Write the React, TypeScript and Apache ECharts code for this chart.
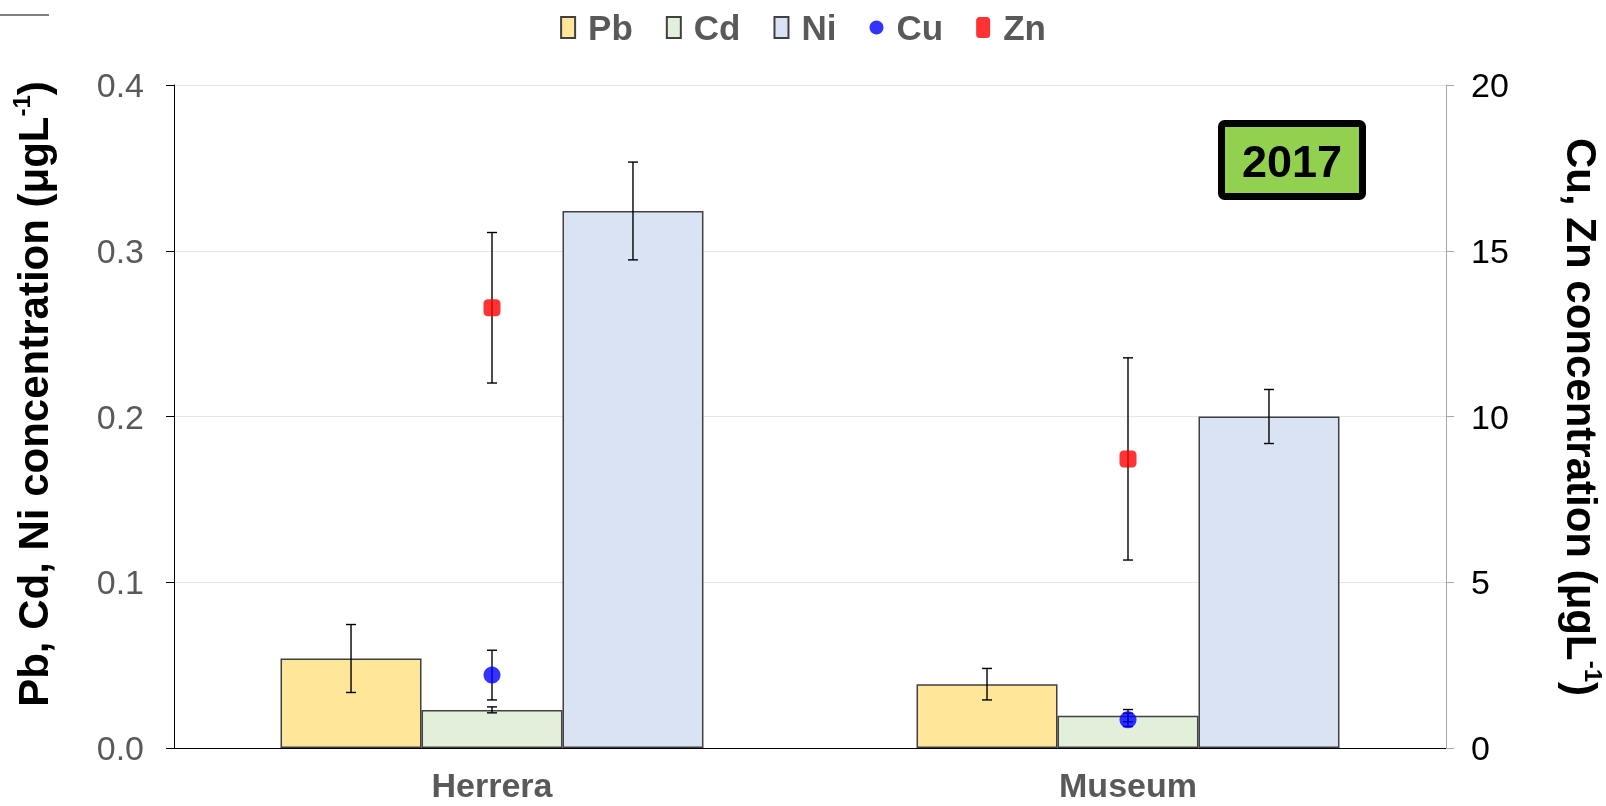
import React, { useEffect, useRef } from "react";
import * as echarts from "echarts";

const categories = ["Herrera", "Museum"];
const pb = [0.054, 0.0385];
const pbErr = [0.0205, 0.0095];
const cd = [0.023, 0.0195];
const cdErr = [0.0018, 0.0037];
const ni = [0.324, 0.2];
const niErr = [0.0295, 0.0163];
const cu = [2.2, 0.85];
const cuErr = [0.75, 0.2];
const zn = [13.28, 8.72];
const znErr = [2.27, 3.05];
const leftTicks = [0, 0.1, 0.2, 0.3, 0.4];
const rightTicks = [0, 5, 10, 15, 20];
const legendNames = ["Pb", "Cd", "Ni", "Cu", "Zn"];
const legendIcons = ["rect", "rect", "rect", "circle", "roundRect"];

const FONT = "'Liberation Sans', Arial, sans-serif";
const GAP = 0.335;

export default function App() {
  const ref = useRef<HTMLDivElement>(null);
  useEffect(() => {
    if (!ref.current) return;
    const chart = echarts.init(ref.current, null, { renderer: "svg" });

    const leftErrData: number[][] = [];
    [pb, cd, ni].forEach((arr, k) => {
      const errs = [pbErr, cdErr, niErr][k];
      arr.forEach((v, i) => leftErrData.push([i, v, errs[i], k - 1]));
    });
    const rightErrData: number[][] = [];
    [cu, zn].forEach((arr, k) => {
      const errs = [cuErr, znErr][k];
      arr.forEach((v, i) => rightErrData.push([i, v, errs[i], 0]));
    });

    const renderErr = (params: any, api: any) => {
      const cat = api.value(0);
      const v = api.value(1);
      const e = api.value(2);
      const k = api.value(3);
      const band = api.size([1, 0])[0];
      const bw = (band * (1 - GAP)) / 3;
      const c = api.coord([cat, v]);
      const x = c[0] + k * bw;
      const top = api.coord([cat, v + e])[1];
      const bot = api.coord([cat, v - e])[1];
      const st = { stroke: "#000", lineWidth: 1.4 };
      const hw = 5;
      return {
        type: "group",
        children: [
          { type: "line", shape: { x1: x, y1: top, x2: x, y2: bot }, style: st },
          { type: "line", shape: { x1: x - hw, y1: top, x2: x + hw, y2: top }, style: st },
          { type: "line", shape: { x1: x - hw, y1: bot, x2: x + hw, y2: bot }, style: st },
        ],
      };
    };

    const barStyle = (color: string) => ({ color, borderColor: "#404040", borderWidth: 1.5 });

    const option: any = {
      animation: false,
      textStyle: { fontFamily: FONT },
      legend: {
        top: 5,
        left: "center",
        data: legendNames.map((n, i) => ({ name: n, icon: legendIcons[i] })),
        itemWidth: 14,
        itemHeight: 21,
        itemGap: 33,
        textStyle: { fontSize: 35, fontWeight: "bold", color: "#595959", fontFamily: FONT, padding: [0, 0, 0, 8] },
      },
      grid: { left: 174, right: 160, top: 85, bottom: 58 },
      xAxis: {
        type: "category",
        data: categories,
        axisLine: { lineStyle: { color: "#000", width: 1 } },
        axisTick: { show: false },
        axisLabel: { fontSize: 34, lineHeight: 34, fontWeight: "bold", color: "#595959", margin: 20, fontFamily: FONT },
      },
      yAxis: [
        {
          type: "value",
          min: leftTicks[0],
          max: leftTicks[leftTicks.length - 1],
          interval: 0.1,
          axisLine: { show: true, lineStyle: { color: "#000", width: 1 } },
          axisTick: { show: true, length: 8, lineStyle: { color: "#000" } },
          axisLabel: { fontSize: 34, color: "#595959", margin: 30, formatter: (v: number) => v.toFixed(1), fontFamily: FONT },
          splitLine: { show: true, lineStyle: { color: "#e6e6e6", width: 1 } },
        },
        {
          type: "value",
          min: rightTicks[0],
          max: rightTicks[rightTicks.length - 1],
          interval: 5,
          position: "right",
          axisLine: { show: true, lineStyle: { color: "#a6a6a6", width: 1 } },
          axisTick: { show: true, length: 8, lineStyle: { color: "#a6a6a6" } },
          axisLabel: { fontSize: 34, color: "#000", margin: 25, fontFamily: FONT },
          splitLine: { show: false },
        },
      ],
      series: [
        { name: "Pb", type: "bar", data: pb, itemStyle: barStyle("#FFE699"), barGap: "0%", barCategoryGap: "33.5%", z: 2 },
        { name: "Cd", type: "bar", data: cd, itemStyle: barStyle("#E2EFDA"), barGap: "0%", barCategoryGap: "33.5%", z: 2 },
        { name: "Ni", type: "bar", data: ni, itemStyle: barStyle("#DAE3F3"), barGap: "0%", barCategoryGap: "33.5%", z: 2 },
        {
          type: "custom",
          renderItem: renderErr,
          data: leftErrData,
          dimensions: ["x", "y", "e", "k"],
          encode: { x: 0, y: 1 },
          yAxisIndex: 0,
          z: 5,
          silent: true,
        },
        {
          type: "custom",
          renderItem: renderErr,
          data: rightErrData,
          dimensions: ["x", "y", "e", "k"],
          encode: { x: 0, y: 1 },
          yAxisIndex: 1,
          z: 5,
          silent: true,
        },
        { name: "Cu", type: "scatter", data: cu, yAxisIndex: 1, symbol: "circle", symbolSize: 17, itemStyle: { color: "#0000FF" }, z: 10 },
        { name: "Zn", type: "scatter", data: zn, yAxisIndex: 1, symbol: "roundRect", symbolSize: 17, itemStyle: { color: "#FF0000" }, z: 10 },
      ],
      graphic: [
        { type: "line", shape: { x1: 0, y1: 15, x2: 49, y2: 15 }, style: { stroke: "#000", lineWidth: 1 } },
        {
          type: "rect",
          shape: { x: 1221.5, y: 123.5, width: 141, height: 73, r: 3 },
          style: { fill: "#92D050", stroke: "#000", lineWidth: 7 },
          z: 20,
        },
        {
          type: "text",
          x: 1292,
          y: 161,
          z: 21,
          style: { text: "2017", fontSize: 45, fontWeight: "bold", fill: "#000", align: "center", verticalAlign: "middle", fontFamily: FONT },
        },
        {
          type: "text",
          x: 33,
          y: 394,
          rotation: Math.PI / 2,
          style: {
            text: "{a|Pb, Cd, Ni concentration (μgL}{s|-1}{a|)}",
            align: "center",
            verticalAlign: "middle",
            rich: {
              a: { fontSize: 42, fontWeight: "bold", fill: "#000", fontFamily: FONT, lineHeight: 48 },
              s: { fontSize: 24, fontWeight: "bold", fill: "#000", fontFamily: FONT, lineHeight: 24, verticalAlign: "top" },
            },
          },
        },
        {
          type: "text",
          x: 1581,
          y: 417,
          rotation: -Math.PI / 2,
          style: {
            text: "{a|Cu, Zn concentration (μgL}{s|-1}{a|)}",
            align: "center",
            verticalAlign: "middle",
            rich: {
              a: { fontSize: 42, fontWeight: "bold", fill: "#000", fontFamily: FONT, lineHeight: 48 },
              s: { fontSize: 24, fontWeight: "bold", fill: "#000", fontFamily: FONT, lineHeight: 24, verticalAlign: "top" },
            },
          },
        },
      ],
    };
    chart.setOption(option);
    return () => chart.dispose();
  }, []);
  return <div ref={ref} style={{ position: "fixed", left: 0, top: 0, width: 1606, height: 806 }} />;
}
